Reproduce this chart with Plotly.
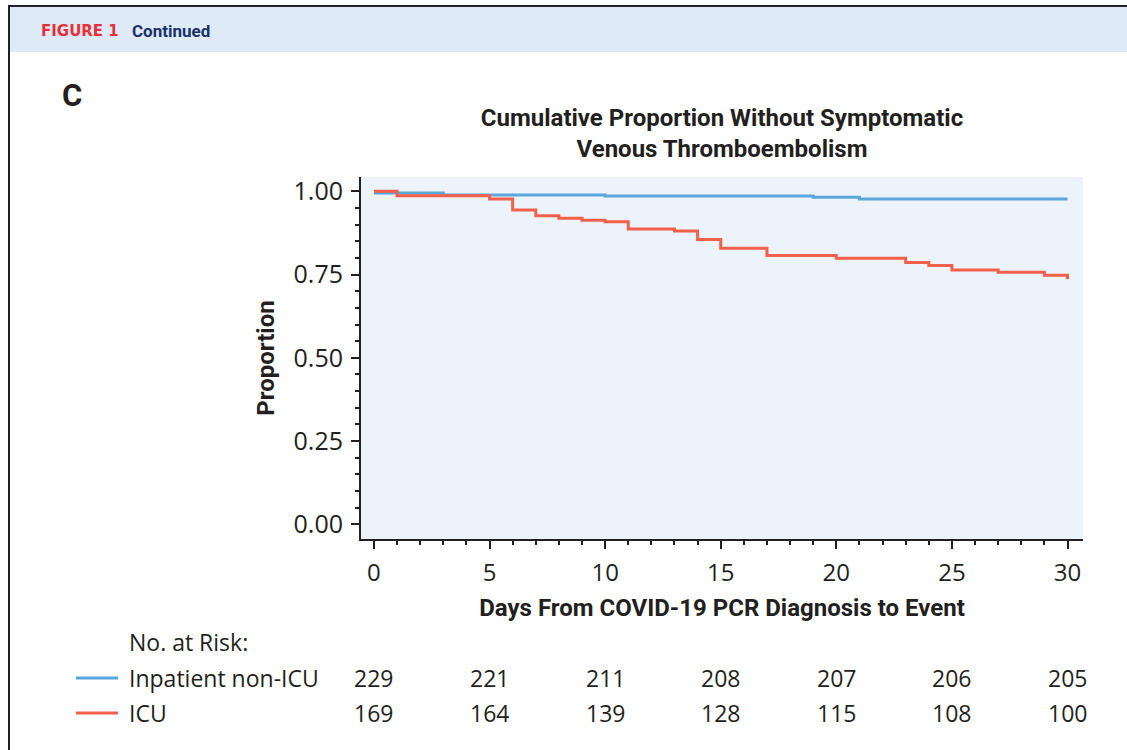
import plotly.graph_objects as go

# ---------------- data ----------------
noicu_days = [0, 3, 10, 19, 21, 30]
noicu_surv = [0.995, 0.989, 0.986, 0.982, 0.977, 0.977]

icu_days = [0, 1, 5, 6, 7, 8, 9, 10, 11, 13, 14, 15, 17, 20, 23, 24, 25, 27, 29, 30]
icu_surv = [1.000, 0.987, 0.977, 0.944, 0.927, 0.919, 0.913, 0.909, 0.887, 0.881,
            0.855, 0.829, 0.807, 0.799, 0.786, 0.777, 0.764, 0.757, 0.748, 0.737]

risk_days = [0, 5, 10, 15, 20, 25, 30]
risk_noicu = [229, 221, 211, 208, 207, 206, 205]
risk_icu = [169, 164, 139, 128, 115, 108, 100]

group_names = ["Inpatient non-ICU", "ICU"]
x_ticks = [0, 5, 10, 15, 20, 25, 30]
y_ticks = [0.00, 0.25, 0.50, 0.75, 1.00]

# ---------------- style ----------------
W, H = 1127, 750
L, R, T, B = 361, 1083, 177, 539
BLUE = "#5AA6DD"
RED = "#F2604B"
INK = "#231F20"
BOLDF = "Roboto"
REG = "Open Sans"


def px(xp):
    return (xp - L) / (R - L)


def py(yp):
    return (B - yp) / (B - T)


fig = go.Figure()
fig.add_trace(go.Scatter(x=noicu_days, y=noicu_surv, mode="lines", line_shape="hv",
                         line=dict(color=BLUE, width=3), name=group_names[0],
                         showlegend=False))
fig.add_trace(go.Scatter(x=icu_days, y=icu_surv, mode="lines", line_shape="hv",
                         line=dict(color=RED, width=3), name=group_names[1],
                         showlegend=False))

shapes = []
# header band and frame
shapes.append(dict(type="rect", xref="paper", yref="paper", x0=px(10), x1=px(W + 5),
                   y0=py(52), y1=py(7), fillcolor="#DEEAF6", line=dict(width=0), layer="below"))
shapes.append(dict(type="line", xref="paper", yref="paper", x0=px(8), x1=px(W + 5),
                   y0=py(6), y1=py(6), line=dict(color=INK, width=2)))
shapes.append(dict(type="line", xref="paper", yref="paper", x0=px(9), x1=px(9),
                   y0=py(5), y1=py(H + 5), line=dict(color=INK, width=2)))
# legend swatches of the risk table
for yy, col in [(678, BLUE), (713, RED)]:
    shapes.append(dict(type="line", xref="paper", yref="paper", x0=px(76), x1=px(118),
                       y0=py(yy), y1=py(yy), line=dict(color=col, width=3)))

ann = []
ann.append(dict(text="<b>FIGURE 1</b>", xref="paper", yref="paper", x=px(39), y=py(31),
                xanchor="left", yanchor="middle", showarrow=False,
                font=dict(family="DejaVu Sans", size=15, color="#E5303B")))
ann.append(dict(text="<b>Continued</b>", xref="paper", yref="paper", x=px(130), y=py(31),
                xanchor="left", yanchor="middle", showarrow=False,
                font=dict(family=BOLDF, size=17, color="#17336B")))
ann.append(dict(text="<b>C</b>", xref="paper", yref="paper", x=px(60), y=py(95),
                xanchor="left", yanchor="middle", showarrow=False,
                font=dict(family=BOLDF, size=31, color=INK)))
ann.append(dict(text="No. at Risk:", xref="paper", yref="paper", x=px(127), y=py(642),
                xanchor="left", yanchor="middle", showarrow=False,
                font=dict(family=REG, size=23, color=INK)))
for name, yy in zip(group_names, [678, 713]):
    ann.append(dict(text=name, xref="paper", yref="paper", x=px(127), y=py(yy),
                    xanchor="left", yanchor="middle", showarrow=False,
                    font=dict(family=REG, size=23, color=INK)))
for vals, yy in [(risk_noicu, 678), (risk_icu, 713)]:
    for d, v in zip(risk_days, vals):
        ann.append(dict(text=str(v), xref="x", yref="paper", x=d, y=py(yy),
                        xanchor="center", yanchor="middle", showarrow=False,
                        font=dict(family=REG, size=23, color=INK)))

fig.update_layout(
    width=W, height=H, autosize=False,
    margin=dict(l=L, r=W - R, t=T, b=H - B, pad=0),
    paper_bgcolor="white", plot_bgcolor="#EDF3FA",
    title=dict(text="<b>Cumulative Proportion Without Symptomatic<br>Venous Thromboembolism</b>",
               x=px(722), xref="paper", xanchor="center",
               y=1 - 126 / H, yref="container", yanchor="middle",
               font=dict(family=BOLDF, size=24, color=INK)),
    shapes=shapes, annotations=ann,
)
fig.update_xaxes(
    range=[-0.56, 30.67], tickvals=x_ticks, ticktext=[str(v) for v in x_ticks],
    showgrid=False, zeroline=False, showline=True, linecolor=INK, linewidth=2,
    ticks="outside", ticklen=8, tickwidth=2, tickcolor=INK, ticklabelstandoff=3,
    tickfont=dict(family=REG, size=24, color=INK),
    minor=dict(dtick=1, tick0=0, ticks="outside", ticklen=4, tickwidth=2, tickcolor=INK, showgrid=False),
    title=dict(text="<b>Days From COVID-19 PCR Diagnosis to Event</b>", standoff=12,
               font=dict(family=BOLDF, size=24, color=INK)),
)
fig.update_yaxes(
    range=[-0.044, 1.043], tickvals=y_ticks, ticktext=[f"{v:.2f}" for v in y_ticks],
    showgrid=False, zeroline=False, showline=True, linecolor=INK, linewidth=2,
    ticks="outside", ticklen=8, tickwidth=2, tickcolor=INK, ticklabelstandoff=3,
    tickfont=dict(family=REG, size=25, color=INK),
    minor=dict(dtick=0.05, tick0=0, ticks="outside", ticklen=4, tickwidth=2, tickcolor=INK, showgrid=False),
    title=dict(text="<b>Proportion</b>", standoff=12,
               font=dict(family=BOLDF, size=24, color=INK)),
)

fig.write_html("out.html", config={"displayModeBar": False},
               post_script="document.body.style.margin='0';")
